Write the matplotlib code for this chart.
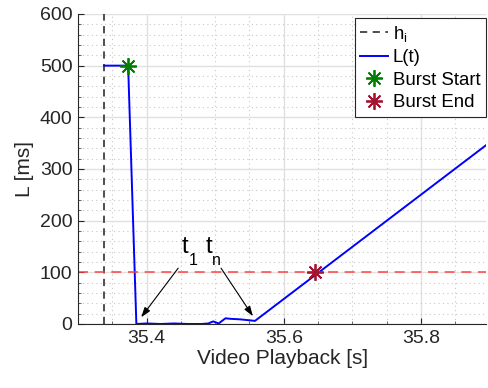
import numpy as np
import matplotlib.pyplot as plt
from matplotlib.ticker import MultipleLocator

plt.rcParams['font.family'] = ['Liberation Sans', 'DejaVu Sans']
plt.rcParams['mathtext.fontset'] = 'custom'
plt.rcParams['mathtext.rm'] = 'Liberation Sans'
plt.rcParams['mathtext.it'] = 'Liberation Sans'

# playback time [s] and latency [ms]
t = [35.338, 35.373, 35.385, 35.40, 35.42, 35.44, 35.46, 35.48, 35.49,
     35.497, 35.505, 35.515, 35.522, 35.536, 35.558, 35.895]
L = [500, 500, 0, 1, 0, 1, 0, 0, 1, 5, 1, 11, 10, 9, 6, 346]

h_i = 35.338
threshold = 100
burst_start = (35.373, 500)
burst_end = (35.645, 100)

dark = '#262626'

fig, ax = plt.subplots(figsize=(4.88, 3.88), dpi=100)
fig.subplots_adjust(left=0.16, right=0.996, top=0.964, bottom=0.165)

ax.axvline(h_i, color='#404040', linestyle=(0, (4, 3)), linewidth=1.3, label='h$_\\mathregular{i}$')
ax.plot(t, L, color='#0000ff', linewidth=1.4, label='L(t)')
ax.axhline(threshold, color='#ff4040', linestyle=(0, (6, 4)), linewidth=1.2, alpha=0.9)
ax.plot(*burst_start, linestyle='none', marker=(8, 2, 0), markersize=12,
        markeredgewidth=1.3, color='#008000', label='Burst Start', zorder=5)
ax.plot(*burst_end, linestyle='none', marker=(8, 2, 0), markersize=12,
        markeredgewidth=1.3, color='#a2142f', label='Burst End', zorder=5)

arrow = dict(arrowstyle='-|>,head_length=0.6,head_width=0.2', color='black',
             lw=0.8, shrinkA=0, shrinkB=0)
ax.annotate('', xy=(35.392, 13), xytext=(35.446, 108), arrowprops=arrow)
ax.annotate('', xy=(35.555, 15), xytext=(35.5085, 108), arrowprops=arrow)
# MATLAB-style labels: big "t" with a low subscript
ax.text(35.4517, 137, 't', fontsize=17, ha='left', va='baseline')
ax.text(35.462, 114, '1', fontsize=11.5, ha='left', va='baseline')
ax.text(35.486, 137, 't', fontsize=17, ha='left', va='baseline')
ax.text(35.4955, 114, 'n', fontsize=11.5, ha='left', va='baseline')

ax.set_xlim(35.3, 35.895)
ax.set_ylim(0, 600)
ax.xaxis.set_major_locator(MultipleLocator(0.2))
ax.xaxis.set_minor_locator(MultipleLocator(0.05))
ax.yaxis.set_major_locator(MultipleLocator(100))
ax.yaxis.set_minor_locator(MultipleLocator(20))
ax.grid(which='major', color='#e0e0e0', linewidth=1.0)
ax.grid(which='minor', color='#c8c8c8', linestyle=(0, (1, 3)), linewidth=0.8)
ax.set_axisbelow(True)
ax.tick_params(which='major', direction='in', labelsize=14, length=4, width=0.8,
               color=dark, labelcolor=dark, pad=4)
ax.tick_params(which='minor', direction='in', length=2, width=0.5, color=dark)
for side in ['top', 'right']:
    ax.spines[side].set_visible(False)
for side in ['left', 'bottom']:
    ax.spines[side].set_color(dark)
    ax.spines[side].set_linewidth(0.8)

ax.set_xlabel('Video Playback [s]', fontsize=15, color=dark, labelpad=2)
ax.set_ylabel('L [ms]', fontsize=15, color=dark, labelpad=4)

leg = ax.legend(loc='upper right', bbox_to_anchor=(1.0, 0.987), fontsize=13.4,
                fancybox=False, framealpha=1, edgecolor=dark, borderpad=0.3,
                labelspacing=0.3, handlelength=1.5, handletextpad=0.25,
                borderaxespad=0)
leg.get_frame().set_linewidth(0.8)

fig.savefig('out.png', dpi=100)
